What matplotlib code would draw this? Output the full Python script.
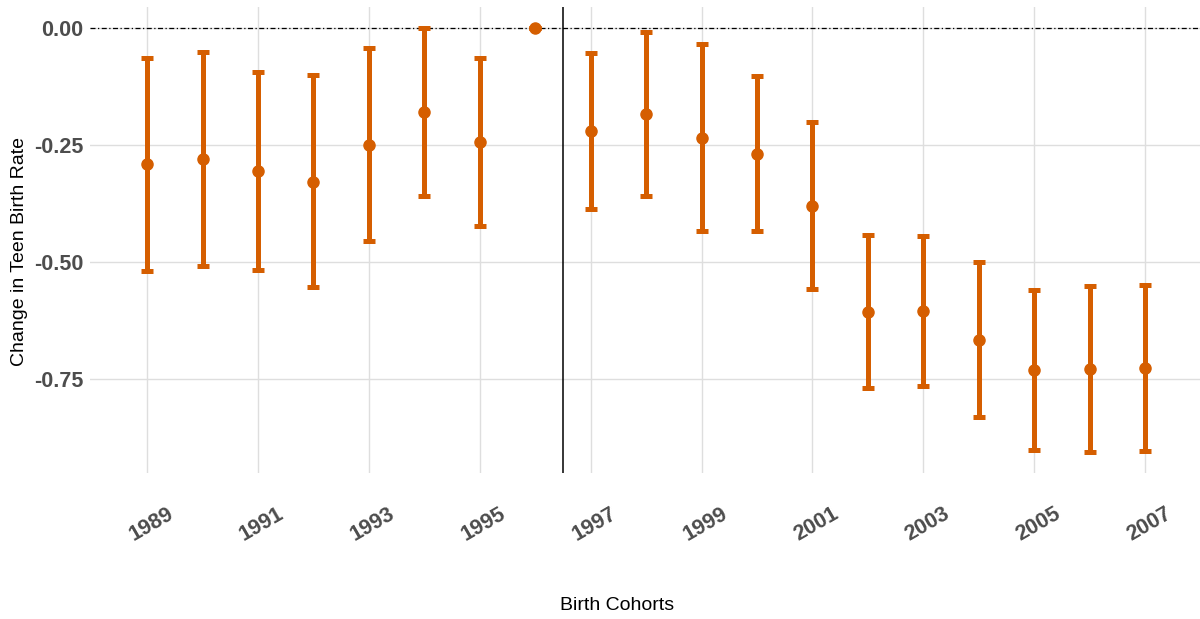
import matplotlib
matplotlib.use("Agg")
import matplotlib.pyplot as plt
import matplotlib.transforms as mtransforms
import numpy as np

years = [1989, 1990, 1991, 1992, 1993, 1994, 1995, 1996, 1997, 1998,
         1999, 2000, 2001, 2002, 2003, 2004, 2005, 2006, 2007]
estimate = [-0.291, -0.280, -0.305, -0.328, -0.249, -0.179, -0.243, 0.0, -0.220, -0.184,
            -0.234, -0.269, -0.380, -0.606, -0.605, -0.667, -0.730, -0.728, -0.727]
upper = [-0.063, -0.051, -0.094, -0.101, -0.043, 0.000, -0.063, 0.0, -0.054, -0.008,
         -0.035, -0.103, -0.201, -0.443, -0.444, -0.500, -0.560, -0.551, -0.550]
lower = [-0.519, -0.509, -0.516, -0.554, -0.455, -0.359, -0.422, 0.0, -0.387, -0.358,
         -0.434, -0.433, -0.558, -0.770, -0.765, -0.831, -0.901, -0.905, -0.903]
xtick_years = list(range(1989, 2008, 2))
ytick_vals = [0.0, -0.25, -0.5, -0.75]
ytick_labels = ["0.00", "-0.25", "-0.50", "-0.75"]

plt.rcParams['font.family'] = ['Liberation Sans', 'DejaVu Sans']

fig = plt.figure(figsize=(12, 6.19), dpi=100)
ax = fig.add_axes([0.075, 0.2363, 0.925, 0.7524])

col = "#D55E00"
est = np.array(estimate)
yerr = np.vstack([est - np.array(lower), np.array(upper) - est])
ax.errorbar(years, est, yerr=yerr, fmt='o', color=col, ecolor=col,
            elinewidth=3.6, capsize=4, capthick=3.6, markersize=8, zorder=3)

ax.axhline(0, color='black', linestyle=(0, (4, 2, 1, 2)), linewidth=0.9, zorder=2)
ax.axvline(1996.5, color='black', linewidth=1.1, zorder=2)

ax.set_xlim(1987.97, 2007.99)
ax.set_ylim(-0.95, 0.045)
ax.set_xticks(xtick_years)
ax.set_xticklabels([str(y) for y in xtick_years], rotation=30, ha='center',
                   fontsize=15.5, fontweight='bold', color='#4D4D4D')
ax.set_yticks(ytick_vals)
ax.set_yticklabels(ytick_labels, fontsize=15.5, fontweight='bold', color='#4D4D4D')
ax.tick_params(axis='both', length=0)
ax.tick_params(axis='x', pad=22)
ax.tick_params(axis='y', pad=5)
shift = mtransforms.ScaledTranslation(4 / 100, 0, fig.dpi_scale_trans)
for lab in ax.get_xticklabels():
    lab.set_transform(lab.get_transform() + shift)
ax.grid(True, color='#DEDEDE', linewidth=1.0, zorder=0)
ax.set_axisbelow(True)
for s in ax.spines.values():
    s.set_visible(False)

fig.text(617 / 1200, 1 - 606 / 619, "Birth Cohorts", ha='center', va='center', fontsize=14)
fig.text(20 / 1200, 1 - 251 / 619, "Change in Teen Birth Rate", ha='center', va='center',
         rotation=90, fontsize=14)

fig.savefig("out.png", dpi=100)
